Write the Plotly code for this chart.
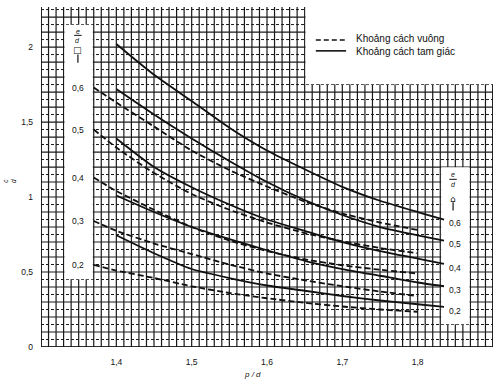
import plotly.graph_objects as go

# ---------------- data ----------------
x_triangle = [1.40, 1.45, 1.50, 1.55, 1.60, 1.65, 1.70, 1.75, 1.80, 1.835]
x_square = [1.37, 1.40, 1.45, 1.50, 1.55, 1.60, 1.65, 1.70, 1.75, 1.80]

ed_labels = ["0,6", "0,5", "0,4", "0,3", "0,2"]

# triangular spacing (solid)
tri_06 = [2.02, 1.815, 1.64, 1.462, 1.31, 1.185, 1.068, 0.975, 0.90, 0.85]
tri_05 = [1.72, 1.55, 1.39, 1.24, 1.10, 0.98, 0.88, 0.80, 0.745, 0.71]
tri_04 = [1.39, 1.20, 1.065, 0.95, 0.85, 0.775, 0.70, 0.64, 0.59, 0.555]
tri_03 = [1.01, 0.90, 0.80, 0.72, 0.645, 0.575, 0.52, 0.475, 0.43, 0.405]
tri_02 = [0.745, 0.625, 0.52, 0.46, 0.41, 0.375, 0.34, 0.31, 0.285, 0.267]

# square spacing (dashed)
sq_06 = [1.73, 1.63, 1.47, 1.31, 1.18, 1.07, 0.97, 0.89, 0.83, 0.78]
sq_05 = [1.45, 1.33, 1.16, 1.02, 0.915, 0.83, 0.76, 0.705, 0.66, 0.625]
sq_04 = [1.13, 1.04, 0.915, 0.80, 0.71, 0.64, 0.585, 0.545, 0.515, 0.49]
sq_03 = [0.84, 0.775, 0.69, 0.62, 0.55, 0.49, 0.445, 0.405, 0.37, 0.34]
sq_02 = [0.547, 0.51, 0.46, 0.405, 0.36, 0.325, 0.295, 0.27, 0.25, 0.235]

x_ticks = [1.4, 1.5, 1.6, 1.7, 1.8]
x_ticktext = ["1,4", "1,5", "1,6", "1,7", "1,8"]
y_ticks = [0, 0.5, 1, 1.5, 2]
y_ticktext = ["0", "0,5", "1", "1,5", "2"]

legend_square = "Khoảng cách vuông"
legend_triangle = "Khoảng cách tam giác"

# ---------------- layout constants ----------------
X0, X1 = 1.30, 1.90
Y0, Y1 = 0.0, 2.267
INK = "#111111"
FONT = "Liberation Sans, Arial, sans-serif"

fig = go.Figure()

tri_series = [tri_06, tri_05, tri_04, tri_03, tri_02]
sq_series = [sq_06, sq_05, sq_04, sq_03, sq_02]

for lab, ys in zip(ed_labels, sq_series):
    fig.add_trace(go.Scatter(x=x_square, y=ys, mode="lines", name=legend_square + " " + lab,
                             line=dict(color=INK, width=1.8, dash="6px,3px", shape="spline", smoothing=0.6),
                             showlegend=False, hoverinfo="skip"))
for lab, ys in zip(ed_labels, tri_series):
    fig.add_trace(go.Scatter(x=x_triangle, y=ys, mode="lines", name=legend_triangle + " " + lab,
                             line=dict(color=INK, width=1.8, shape="spline", smoothing=0.6),
                             showlegend=False, hoverinfo="skip"))

shapes = []
# grid: vertical lines every 0.01
n_v = int(round((X1 - X0) / 0.01))
for i in range(n_v + 1):
    xv = X0 + i * 0.01
    shapes.append(dict(type="line", xref="x", yref="y", x0=xv, x1=xv, y0=Y0, y1=Y1,
                       line=dict(color="#1a1a1a", width=1.2), layer="below"))
# horizontal lines every 0.05 (solid on 0.1, dotted between)
for j in range(0, 46):
    yv = j * 0.05
    solid = (j % 2 == 0)
    shapes.append(dict(type="line", xref="x", yref="y", x0=X0, x1=X1, y0=yv, y1=yv,
                       line=dict(color="#1a1a1a", width=1.2 if solid else 1.0,
                                 dash="solid" if solid else "3px,2px"), layer="below"))
# white areas (label column, legend area, right label box)
white = dict(type="rect", xref="x", yref="y", fillcolor="white", line=dict(width=0), layer="below")
shapes.append(dict(white, x0=1.3312, x1=1.3688, y0=0.4515, y1=2.149))
shapes.append(dict(white, x0=1.6512, x1=1.95, y0=1.7515, y1=2.5))
shapes.append(dict(white, x0=1.8312, x1=1.8688, y0=0.1515, y1=1.1985))
# frame
frame = dict(type="line", xref="x", yref="y", line=dict(color=INK, width=1.6), layer="below")
shapes.append(dict(frame, x0=X0, x1=X1, y0=Y0, y1=Y0))
shapes.append(dict(frame, x0=X0, x1=X0, y0=Y0, y1=Y1))
shapes.append(dict(frame, x0=X1, x1=X1, y0=Y0, y1=1.75))

# header fraction bars and stems
shapes.append(dict(type="line", xref="x", yref="y", x0=1.344, x1=1.354, y0=2.078, y1=2.078,
                   line=dict(color=INK, width=1)))
shapes.append(dict(type="line", xref="x", yref="y", x0=1.349, x1=1.349, y0=1.95, y1=1.895,
                   line=dict(color=INK, width=1.2)))
shapes.append(dict(type="line", xref="x", yref="y", x0=1.842, x1=1.852, y0=1.118, y1=1.118,
                   line=dict(color=INK, width=1)))
shapes.append(dict(type="line", xref="x", yref="y", x0=1.847, x1=1.847, y0=0.965, y1=0.91,
                   line=dict(color=INK, width=1.2)))

# legend samples (paper coords)
shapes.append(dict(type="line", xref="paper", yref="paper", x0=0.608, x1=0.672, y0=0.903, y1=0.903,
                   line=dict(color=INK, width=1.6, dash="5px,3px")))
shapes.append(dict(type="line", xref="paper", yref="paper", x0=0.608, x1=0.675, y0=0.871, y1=0.871,
                   line=dict(color=INK, width=1.6)))

annotations = []
lab_font = dict(family=FONT, size=8.5, color=INK)
for lab, ys in zip(ed_labels, sq_series):
    annotations.append(dict(x=1.349, y=ys[0], xref="x", yref="y", text=lab, showarrow=False,
                            font=lab_font, xanchor="center", yanchor="middle"))
for lab, ys in zip(ed_labels, tri_series):
    annotations.append(dict(x=1.849, y=ys[-1] - 0.025, xref="x", yref="y", text=lab, showarrow=False,
                            font=lab_font, xanchor="center", yanchor="middle"))
ital = dict(family=FONT, size=7, color=INK)
annotations += [
    dict(x=1.349, y=2.105, xref="x", yref="y", text="<i>e</i>", showarrow=False, font=ital),
    dict(x=1.349, y=2.045, xref="x", yref="y", text="<i>d</i>", showarrow=False, font=ital),
    dict(x=1.349, y=1.982, xref="x", yref="y", text="□", showarrow=False,
         font=dict(family="DejaVu Sans", size=9, color=INK)),
    dict(x=1.847, y=1.148, xref="x", yref="y", text="<i>e</i>", showarrow=False, font=ital),
    dict(x=1.847, y=1.086, xref="x", yref="y", text="<i>d</i>", showarrow=False, font=ital),
    dict(x=1.847, y=0.99, xref="x", yref="y", text="⌂", showarrow=False,
         font=dict(family="DejaVu Sans", size=9, color=INK)),
    dict(x=0.692, y=0.906, xref="paper", yref="paper", text=legend_square, showarrow=False,
         xanchor="left", yanchor="middle", font=dict(family=FONT, size=10, color=INK)),
    dict(x=0.692, y=0.870, xref="paper", yref="paper", text=legend_triangle, showarrow=False,
         xanchor="left", yanchor="middle", font=dict(family=FONT, size=10, color=INK)),
    dict(x=0.467, y=-0.082, xref="paper", yref="paper", text="<i>p / d</i>", showarrow=False,
         xanchor="center", yanchor="middle", font=dict(family=FONT, size=8, color=INK)),
    dict(x=-0.071, y=0.488, xref="paper", yref="paper", text="<i>c</i><br><i>d</i>", showarrow=False,
         textangle=-90, xanchor="center", yanchor="middle", font=dict(family=FONT, size=6.5, color=INK)),
]

fig.update_layout(
    width=504, height=388,
    margin=dict(l=41, r=11, t=7, b=41),
    paper_bgcolor="white", plot_bgcolor="white",
    showlegend=False,
    shapes=shapes, annotations=annotations,
    xaxis=dict(range=[X0, X1], showgrid=False, zeroline=False, showline=False, ticks="",
               tickvals=x_ticks, ticktext=x_ticktext, ticklabelstandoff=8,
               tickfont=dict(family=FONT, size=8.5, color=INK)),
    yaxis=dict(range=[Y0, Y1], showgrid=False, zeroline=False, showline=False, ticks="",
               tickvals=y_ticks, ticktext=y_ticktext, ticklabelstandoff=7,
               tickfont=dict(family=FONT, size=8.5, color=INK)),
)

fig.write_html("out.html", config={"displayModeBar": False},
               post_script="document.body.style.margin='0';document.body.style.padding='0';")
